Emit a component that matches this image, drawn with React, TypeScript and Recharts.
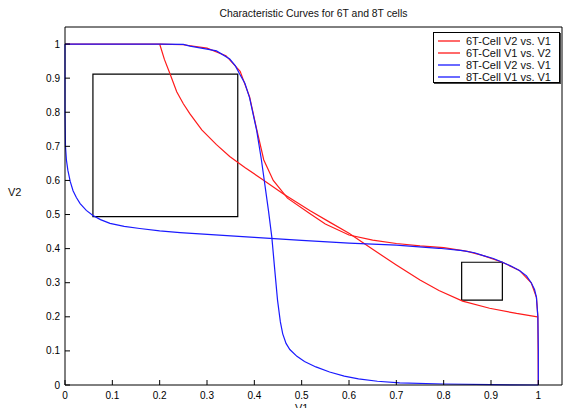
import { LineChart, Line, XAxis, YAxis, ReferenceArea } from 'recharts';

// 6T cell, V2 vs V1 (flat top, follows the knee, then plateau into the right edge)
const sixTV2vsV1_x = [0, 0.1, 0.2, 0.25, 0.3, 0.34, 0.37, 0.39, 0.405, 0.42, 0.44, 0.47, 0.517, 0.55, 0.6, 0.65, 0.7, 0.75, 0.8, 0.85, 0.882, 0.924, 0.96, 0.985, 0.996, 0.999, 1.0];
const sixTV2vsV1_y = [1, 1, 1, 0.998, 0.988, 0.966, 0.92, 0.845, 0.75, 0.66, 0.6, 0.548, 0.503, 0.472, 0.44, 0.425, 0.415, 0.408, 0.403, 0.392, 0.38, 0.36, 0.336, 0.3, 0.257, 0.2, 0];

// 6T cell, V1 vs V2 (from top at 0.2 down to the right edge at 0.2)
const sixTV1vsV2_x = [0.2, 0.21, 0.222, 0.236, 0.25, 0.264, 0.289, 0.32, 0.348, 0.38, 0.418, 0.46, 0.517, 0.56, 0.6, 0.65, 0.7, 0.75, 0.79, 0.84, 0.897, 0.954, 0.998];
const sixTV1vsV2_y = [1, 0.955, 0.912, 0.86, 0.825, 0.795, 0.748, 0.705, 0.67, 0.638, 0.602, 0.562, 0.512, 0.477, 0.445, 0.398, 0.352, 0.308, 0.277, 0.246, 0.225, 0.21, 0.2];

// 8T cell, V2 vs V1
const eightTV2vsV1_x = [0, 0.1, 0.2, 0.25, 0.264, 0.3, 0.32, 0.348, 0.36, 0.369, 0.38, 0.39, 0.405, 0.415, 0.422, 0.43, 0.437, 0.443, 0.449, 0.455, 0.46, 0.467, 0.475, 0.49, 0.506, 0.53, 0.559, 0.59, 0.62, 0.66, 0.707, 0.8, 0.9, 1.0];
const eightTV2vsV1_y = [1, 1, 1, 0.999, 0.994, 0.985, 0.98, 0.956, 0.936, 0.912, 0.885, 0.842, 0.746, 0.66, 0.59, 0.51, 0.433, 0.34, 0.249, 0.185, 0.15, 0.122, 0.104, 0.084, 0.069, 0.053, 0.038, 0.026, 0.018, 0.011, 0.006, 0.003, 0.001, 0];

// 8T cell, V1 vs V1 (mirror curve)
const eightTV1vsV1_x = [0, 0, 0.001, 0.003, 0.006, 0.011, 0.017, 0.024, 0.032, 0.045, 0.059, 0.075, 0.095, 0.125, 0.158, 0.2, 0.243, 0.4, 0.5, 0.6, 0.7, 0.79, 0.84, 0.865, 0.882, 0.905, 0.924, 0.945, 0.96, 0.975, 0.985, 0.992, 0.996, 0.999, 1.0, 1.0];
const eightTV1vsV1_y = [1, 0.8, 0.7, 0.66, 0.63, 0.597, 0.57, 0.55, 0.532, 0.512, 0.497, 0.485, 0.474, 0.465, 0.459, 0.452, 0.447, 0.433, 0.424, 0.416, 0.41, 0.401, 0.394, 0.388, 0.38, 0.371, 0.36, 0.347, 0.336, 0.32, 0.3, 0.28, 0.257, 0.2, 0.1, 0];

// noise margin squares
const squareX1 = [0.059, 0.838];
const squareX2 = [0.365, 0.924];
const squareY1 = [0.494, 0.249];
const squareY2 = [0.912, 0.36];

const ticks = [0, 0.1, 0.2, 0.3, 0.4, 0.5, 0.6, 0.7, 0.8, 0.9, 1];

const seriesNames = ['6T-Cell V2 vs. V1', '6T-Cell V1 vs. V2', '8T-Cell V2 vs. V1', '8T-Cell V1 vs. V1'];
const RED = '#ff1a1a';
const BLUE = '#1a1aff';
const seriesColors = [RED, RED, BLUE, BLUE];

const toPoints = (xs: number[], ys: number[]) => xs.map((x, i) => ({ x, y: ys[i] }));

const FONT = 'Arial, "Liberation Sans", sans-serif';

function BottomTick({ x, y, payload }: any) {
  return (
    <g>
      <line x1={x} y1={y} x2={x} y2={y - 5} stroke="#000" />
      <text x={x} y={y + 14} textAnchor="middle" fontSize={10} fontFamily={FONT} fill="#000">
        {payload.value}
      </text>
    </g>
  );
}

function LeftTick({ x, y, payload }: any) {
  return (
    <g>
      <line x1={x} y1={y} x2={x + 5} y2={y} stroke="#000" />
      <text x={x - 5} y={y + 3.5} textAnchor="end" fontSize={10} fontFamily={FONT} fill="#000">
        {payload.value}
      </text>
    </g>
  );
}

function TopTick({ x, y }: any) {
  return <line x1={x} y1={y} x2={x} y2={y + 5} stroke="#000" />;
}

function RightTick({ x, y }: any) {
  return <line x1={x} y1={y} x2={x - 5} y2={y} stroke="#000" />;
}

export default function App() {
  const series = [
    toPoints(sixTV2vsV1_x, sixTV2vsV1_y),
    toPoints(sixTV1vsV2_x, sixTV1vsV2_y),
    toPoints(eightTV2vsV1_x, eightTV2vsV1_y),
    toPoints(eightTV1vsV1_x, eightTV1vsV1_y),
  ];

  return (
    <div style={{ position: 'absolute', left: 0, top: 0, width: 564, height: 408, background: '#fff', overflow: 'hidden', fontFamily: FONT }}>
      <LineChart width={564} height={408} margin={{ top: 0, right: 0, bottom: 0, left: 0 }}>
        <XAxis
          xAxisId={0}
          dataKey="x"
          type="number"
          domain={[0, 1.05]}
          ticks={ticks}
          orientation="bottom"
          height={23}
          tickSize={0}
          tickMargin={0}
          tickLine={false}
          tick={<BottomTick />}
          stroke="#000"
          interval={0}
        />
        <XAxis
          xAxisId="top"
          dataKey="x"
          type="number"
          domain={[0, 1.05]}
          ticks={ticks}
          orientation="top"
          height={27}
          tickSize={0}
          tickMargin={0}
          tickLine={false}
          tick={<TopTick />}
          stroke="#000"
          interval={0}
        />
        <YAxis
          yAxisId={0}
          type="number"
          domain={[0, 1.05]}
          ticks={ticks}
          width={65}
          tickSize={0}
          tickMargin={0}
          tickLine={false}
          tick={<LeftTick />}
          stroke="#000"
          interval={0}
        />
        <YAxis
          yAxisId="right"
          type="number"
          orientation="right"
          domain={[0, 1.05]}
          ticks={ticks}
          width={2}
          tickSize={0}
          tickMargin={0}
          tickLine={false}
          tick={<RightTick />}
          stroke="#000"
          interval={0}
        />
        {squareX1.map((x1, i) => (
          <ReferenceArea
            key={`sq-${i}`}
            xAxisId={0}
            yAxisId={0}
            x1={x1}
            x2={squareX2[i]}
            y1={squareY1[i]}
            y2={squareY2[i]}
            stroke="#000"
            strokeWidth={1.2}
            fill="none"
            fillOpacity={0}
            ifOverflow="visible"
          />
        ))}
        {series.map((data, i) => (
          <Line
            key={seriesNames[i]}
            xAxisId={0}
            yAxisId={0}
            data={data}
            dataKey="y"
            name={seriesNames[i]}
            type="linear"
            stroke={seriesColors[i]}
            strokeWidth={1.2}
            dot={false}
            isAnimationActive={false}
          />
        ))}
      </LineChart>

      <div style={{ position: 'absolute', left: 0, width: 627, top: 8, textAlign: 'center', fontSize: 10.4, lineHeight: '12px', color: '#111' }}>
        Characteristic Curves for 6T and 8T cells
      </div>
      <div style={{ position: 'absolute', left: 8, top: 186, fontSize: 11, lineHeight: '12px', color: '#111' }}>V2</div>
      <div style={{ position: 'absolute', left: 295, top: 403, fontSize: 11, lineHeight: '11px', color: '#111' }}>V1</div>

      <div
        style={{
          position: 'absolute',
          left: 433,
          top: 32,
          width: 125,
          height: 49,
          border: '1px solid #000',
          boxShadow: '1px 1px 0 #444',
          background: '#fff',
          fontSize: 11,
          color: '#111',
        }}
      >
        {seriesNames.map((name, i) => (
          <div key={name} style={{ position: 'absolute', left: 0, top: 2 + i * 12, height: 12, display: 'flex', alignItems: 'center' }}>
            <svg width={30} height={12} style={{ display: 'block' }}>
              <line x1={4} y1={6} x2={26} y2={6} stroke={seriesColors[i]} strokeWidth={1.3} />
            </svg>
            <span style={{ marginLeft: 2, whiteSpace: 'nowrap' }}>{name}</span>
          </div>
        ))}
      </div>
    </div>
  );
}
